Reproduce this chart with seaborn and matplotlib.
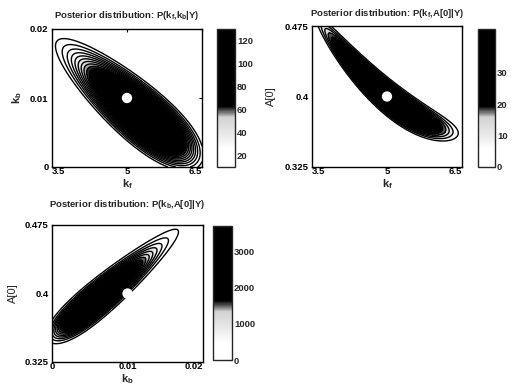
import numpy as np
import matplotlib
matplotlib.use("Agg")
import matplotlib.pyplot as plt
import seaborn as sns
from matplotlib.colors import LinearSegmentedColormap, Normalize
from matplotlib.cm import ScalarMappable

# ---------------- data ----------------
kf_lim = [3.5, 6.5]
kb_lim = [0.0, 0.02]
a0_lim = [0.325, 0.475]
kf_ticks = [3.5, 5, 6.5]
kb_ticks = [0, 0.01, 0.02]
a0_ticks = [0.325, 0.4, 0.475]
kf_ticklabels = ["3.5", "5", "6.5"]
kb_ticklabels = ["0", "0.01", "0.02"]
a0_ticklabels = ["0.325", "0.4", "0.475"]
true_kf = 5.0
true_kb = 0.01
true_a0 = 0.4

# posterior shapes (normalised axes coords, -1..1):
# centre of outer contour, its half length / half width, tilt, how flat the
# top is, and how far the peak sits toward one tip
p1_center = [0.015, -0.078]
p1_half_len = 1.31
p1_half_wid = 0.40
p1_angle = -44.0
p1_flat = 3.2
p1_skew = 0.22
p1_peak = 130.0
p1_levels = list(range(10, 131, 6))
p1_cbar_lim = [10, 130]
p1_cbar_ticks = [20, 40, 60, 80, 100, 120]

p2_center_u = 0.0
p2_slope = -0.86
p2_curv = 0.33
p2_half_len = 0.95
p2_half_wid = 0.28
p2_flat = 4.5
p2_skew = 0.0
p2_peak = 44.0
p2_levels = list(range(0, 45, 4))
p2_cbar_lim = [0, 44]
p2_cbar_ticks = [0, 10, 20, 30]

p3_center = [-0.19, 0.115]
p3_half_len = 1.18
p3_half_wid = 0.25
p3_angle = 43.5
p3_flat = 3.0
p3_skew = -0.3
p3_peak = 3700.0
p3_levels = list(range(0, 3701, 200))
p3_cbar_lim = [0, 3700]
p3_cbar_ticks = [0, 1000, 2000, 3000]

titles = [r"Posterior distribution: P($k_f$,$k_b$|Y)",
          r"Posterior distribution: P($k_f$,A[0]|Y)",
          r"Posterior distribution: P($k_b$,A[0]|Y)"]

# ---------------- style ----------------
sns.set_style("white")
plt.rcParams["font.family"] = ["Liberation Sans", "DejaVu Sans"]
plt.rcParams["font.weight"] = "bold"
plt.rcParams["mathtext.fontset"] = "custom"
plt.rcParams["mathtext.rm"] = "Liberation Sans:bold"
plt.rcParams["mathtext.it"] = "Liberation Sans:bold"
plt.rcParams["mathtext.bf"] = "Liberation Sans:bold"

cmap = LinearSegmentedColormap.from_list(
    "scan_gray",
    [(0.0, "#ffffff"), (0.13, "#ffffff"), (0.2, "#f0f0f0"),
     (0.36, "#d2d2d2"), (0.44, "#000000"), (1.0, "#000000")])

W, H = 516, 392
fig = plt.figure(figsize=(W / 100, H / 100), dpi=100)


def box(l, t, r, b):
    return [l / W, 1 - b / H, (r - l) / W, (b - t) / H]


def grid(xlim, ylim, n=500):
    u = np.linspace(-1, 1, n)
    U, V = np.meshgrid(u, u)
    X = (xlim[0] + xlim[1]) / 2 + U * (xlim[1] - xlim[0]) / 2
    Y = (ylim[0] + ylim[1]) / 2 + V * (ylim[1] - ylim[0]) / 2
    return U, V, X, Y


def profile(a, b, f1, flat, skew):
    # shift the peak toward one tip while keeping the outer tips fixed
    a = np.clip(a, -1.6, 1.6)
    g = (a - skew) / (1 - skew * a)
    rho = np.sqrt(g ** 2 + b ** 2)
    return np.exp(np.log(f1) * rho ** flat)


def ellipse(U, V, center, L, Wd, angle, f1, flat, skew):
    th = np.deg2rad(angle)
    du, dv = U - center[0], V - center[1]
    p = du * np.cos(th) + dv * np.sin(th)
    q = -du * np.sin(th) + dv * np.cos(th)
    return profile(p / L, q / Wd, f1, flat, skew)


def style_axes(ax, xlim, ylim, xt, xtl, yt, ytl, xha, xlabel, ylabel, title,
               tpad, ylpad):
    ax.set_xlim(xlim)
    ax.set_ylim(ylim)
    ax.set_xticks(xt)
    ax.set_xticklabels(xtl)
    ax.set_yticks(yt)
    ax.set_yticklabels(ytl)
    for lab, ha in zip(ax.get_xticklabels(), xha):
        lab.set_ha(ha)
    ax.tick_params(direction="in", length=2.5, width=0.8, labelsize=6.8,
                   top=True, right=True, pad=0.2, colors="black")
    ax.tick_params(axis="y", pad=2.5)
    for s in ax.spines.values():
        s.set_visible(True)
        s.set_linewidth(1.0)
        s.set_color("black")
    ax.set_xlabel(xlabel, fontsize=8, labelpad=0.5)
    ax.set_ylabel(ylabel, fontsize=8, labelpad=ylpad)
    ax.set_title(title, fontsize=6.8, fontweight="bold", pad=tpad)


def colorbar(cax, lim, ticks):
    norm = Normalize(vmin=lim[0], vmax=lim[1])
    sm = ScalarMappable(norm=norm, cmap=cmap)
    cb = fig.colorbar(sm, cax=cax, ticks=ticks)
    cb.outline.set_linewidth(1.0)
    cb.ax.tick_params(direction="in", length=2, width=0.8, labelsize=6.8, pad=1.5)
    return norm


def draw(ax, cax, X, Y, Z, levels, lim, ticks, dot):
    norm = colorbar(cax, lim, ticks)
    ax.contourf(X, Y, Z, levels=levels, cmap=cmap, norm=norm, extend="max")
    line_levels = [lv for lv in levels[:-1] if lv > 0]
    ax.contour(X, Y, Z, levels=line_levels, colors="black", linewidths=1.0)
    sns.scatterplot(x=[dot[0]], y=[dot[1]], ax=ax, s=55, color="white",
                    edgecolor="none", zorder=5, legend=False)


# ---- panel 1: kf vs kb ----
ax1 = fig.add_axes(box(52, 29, 202, 167))
cax1 = fig.add_axes(box(217, 29, 235, 167))
U, V, X, Y = grid(kf_lim, kb_lim)
Z1 = p1_peak * ellipse(U, V, p1_center, p1_half_len, p1_half_wid, p1_angle,
                       p1_levels[0] / p1_peak, p1_flat, p1_skew)
draw(ax1, cax1, X, Y, Z1, p1_levels, p1_cbar_lim, p1_cbar_ticks, (true_kf, true_kb))
style_axes(ax1, kf_lim, kb_lim, kf_ticks, kf_ticklabels, kb_ticks, kb_ticklabels,
           ["left", "center", "right"], r"$k_f$", r"$k_b$", titles[0], 8, 4)

# ---- panel 2: kf vs A[0] ----
ax2 = fig.add_axes(box(312, 26, 462, 167))
cax2 = fig.add_axes(box(478, 29, 495, 167))
U, V, X, Y = grid(kf_lim, a0_lim)
w = V - (p2_slope * U + p2_curv * U ** 2)
Z2 = p2_peak * profile((U - p2_center_u) / p2_half_len, w / p2_half_wid,
                       p2_levels[1] / p2_peak, p2_flat, p2_skew)
draw(ax2, cax2, X, Y, Z2, p2_levels, p2_cbar_lim, p2_cbar_ticks, (true_kf, true_a0))
style_axes(ax2, kf_lim, a0_lim, kf_ticks, kf_ticklabels, a0_ticks, a0_ticklabels,
           ["left", "center", "right"], r"$k_f$", "A[0]", titles[1], 7, 6)

# ---- panel 3: kb vs A[0] ----
ax3 = fig.add_axes(box(52, 225, 203, 362))
cax3 = fig.add_axes(box(213, 226, 232, 360))
U, V, X, Y = grid(kb_lim, a0_lim)
Z3 = p3_peak * ellipse(U, V, p3_center, p3_half_len, p3_half_wid, p3_angle,
                       p3_levels[1] / p3_peak, p3_flat, p3_skew)
draw(ax3, cax3, X, Y, Z3, p3_levels, p3_cbar_lim, p3_cbar_ticks, (true_kb, true_a0))
style_axes(ax3, kb_lim, a0_lim, kb_ticks, kb_ticklabels, a0_ticks, a0_ticklabels,
           ["center", "center", "right"], r"$k_b$", "A[0]", titles[2], 13, 5)

fig.savefig("out.png", dpi=100)
